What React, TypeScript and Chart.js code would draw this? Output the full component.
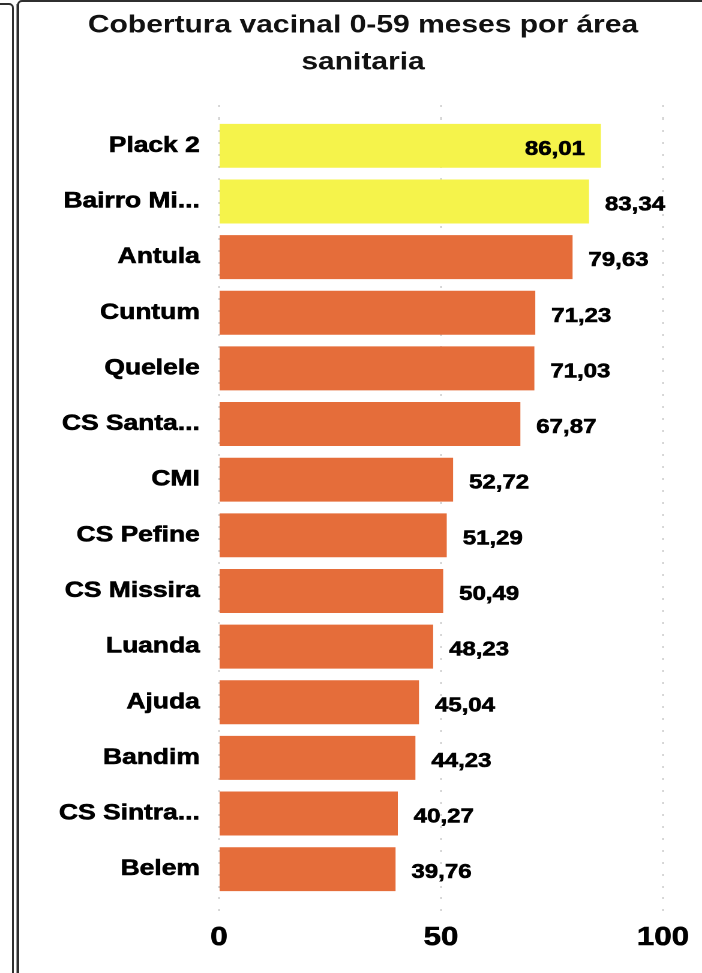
import React, { useEffect, useRef } from "react";
import { Chart, registerables } from "chart.js";

Chart.register(...registerables);

const title = ["Cobertura vacinal 0-59 meses por área", "sanitaria"];
const categories = [
  "Plack 2",
  "Bairro Mi...",
  "Antula",
  "Cuntum",
  "Quelele",
  "CS Santa...",
  "CMI",
  "CS Pefine",
  "CS Missira",
  "Luanda",
  "Ajuda",
  "Bandim",
  "CS Sintra...",
  "Belem",
];
const coverage = [86.01, 83.34, 79.63, 71.23, 71.03, 67.87, 52.72, 51.29, 50.49, 48.23, 45.04, 44.23, 40.27, 39.76];
const highlighted = ["Plack 2", "Bairro Mi..."];
const xTicks = [0, 50, 100];

const YELLOW = "#F5F34B";
const ORANGE = "#E56D3A";
const STRETCH = 1.2;

const valueLabels = {
  id: "valueLabels",
  afterDatasetsDraw(chart: any) {
    const ctx = chart.ctx;
    const meta = chart.getDatasetMeta(0);
    const area = chart.chartArea;
    const pad = 13.3;
    ctx.save();
    ctx.font = "bold 20px 'Liberation Sans', Arial, sans-serif";
    ctx.fillStyle = "#000";
    ctx.strokeStyle = "#000";
    ctx.lineWidth = 0.6;
    ctx.textBaseline = "middle";
    meta.data.forEach((bar: any, i: number) => {
      const v = chart.data.datasets[0].data[i] as number;
      const text = v.toFixed(2).replace(".", ",");
      const w = ctx.measureText(text).width;
      const y = bar.y + 3.5;
      let x: number;
      if (bar.x + pad + w > area.right + 8) {
        ctx.textAlign = "right";
        x = bar.x - pad;
      } else {
        ctx.textAlign = "left";
        x = bar.x + pad;
      }
      ctx.fillText(text, x, y);
      ctx.strokeText(text, x, y);
    });
    ctx.restore();
  },
};

function BarChart() {
  const ref = useRef<HTMLCanvasElement | null>(null);
  useEffect(() => {
    if (!ref.current) return;
    const font = "'Liberation Sans', Arial, sans-serif";
    const chart = new Chart(ref.current, {
      type: "bar",
      data: {
        labels: categories,
        datasets: [
          {
            data: coverage,
            backgroundColor: categories.map((c) => (highlighted.includes(c) ? YELLOW : ORANGE)),
            borderWidth: 0,
            barPercentage: 0.79,
            categoryPercentage: 1,
            xAxisID: "x",
            yAxisID: "y",
          },
        ],
      },
      options: {
        indexAxis: "y",
        animation: false,
        responsive: true,
        maintainAspectRatio: false,
        devicePixelRatio: 2,
        layout: { padding: 0 },
        plugins: {
          legend: { display: false },
          tooltip: { enabled: false },
          title: {
            display: true,
            text: title,
            color: "#111",
            font: { family: font, size: 25, weight: "bold", lineHeight: 1.48 },
            padding: { top: 7, bottom: 24 },
          },
        },
        scales: {
          x: {
            type: "linear",
            position: "bottom",
            min: 0,
            max: 100,
            afterBuildTicks: (s: any) => {
              s.ticks = xTicks.map((v) => ({ value: v }));
            },
            afterFit: (s: any) => {
              s.height = 76;
            },
            grid: {
              color: "#c4c4c4",
              lineWidth: 1,
              tickLength: 18,
              tickColor: "#c4c4c4",
              tickBorderDash: [2, 10],
            },
            border: { display: false, dash: [2, 10] },
            ticks: {
              color: "#000",
              padding: 7,
              textStrokeColor: "#000",
              textStrokeWidth: 0.6,
              font: { family: font, size: 26, weight: "bold" },
            },
          },
          x2: {
            type: "linear",
            position: "top",
            min: 0,
            max: 100,
            afterBuildTicks: (s: any) => {
              s.ticks = xTicks.map((v) => ({ value: v }));
            },
            afterFit: (s: any) => {
              s.height = 13;
            },
            grid: {
              drawOnChartArea: false,
              color: "#c4c4c4",
              tickLength: 13,
              tickColor: "#c4c4c4",
              tickBorderDash: [2, 10],
            },
            border: { display: false },
            ticks: { display: false },
          },
          y: {
            type: "category",
            position: "left",
            afterFit: (s: any) => {
              s.width = 162.5;
            },
            grid: { display: false, drawTicks: false },
            border: { display: false },
            ticks: {
              autoSkip: false,
              color: "#000",
              padding: 16,
              textStrokeColor: "#000",
              textStrokeWidth: 0.6,
              font: { family: font, size: 22, weight: "bold" },
            },
          },
          yRight: {
            type: "category",
            position: "right",
            afterFit: (s: any) => {
              s.width = 32.5;
            },
            grid: { display: false, drawTicks: false },
            border: { display: false },
            ticks: { display: false },
          },
        },
      },
      plugins: [valueLabels],
    });
    return () => chart.destroy();
  }, []);

  return (
    <div
      style={{
        position: "absolute",
        left: 24,
        top: 0,
        width: 678 / STRETCH,
        height: 973,
        transform: `scaleX(${STRETCH})`,
        transformOrigin: "0 0",
      }}
    >
      <canvas ref={ref} />
    </div>
  );
}

export default function App() {
  return (
    <div
      style={{
        position: "fixed",
        left: 0,
        top: 0,
        width: 702,
        height: 973,
        overflow: "hidden",
        background: "#fff",
      }}
    >
      <div
        style={{
          position: "absolute",
          left: -20,
          top: 3,
          width: 34,
          height: 1100,
          border: "2px solid #2f2f2f",
          borderRadius: 5,
          boxSizing: "border-box",
        }}
      />
      <div style={{ position: "absolute", left: 16, top: 4, width: 1, height: 1000, background: "#9a9a9a" }} />
      <div
        style={{
          position: "absolute",
          left: 17,
          top: 0,
          width: 760,
          height: 1100,
          border: "2px solid #2f2f2f",
          borderRadius: 5,
          boxSizing: "border-box",
        }}
      />
      <BarChart />
    </div>
  );
}
